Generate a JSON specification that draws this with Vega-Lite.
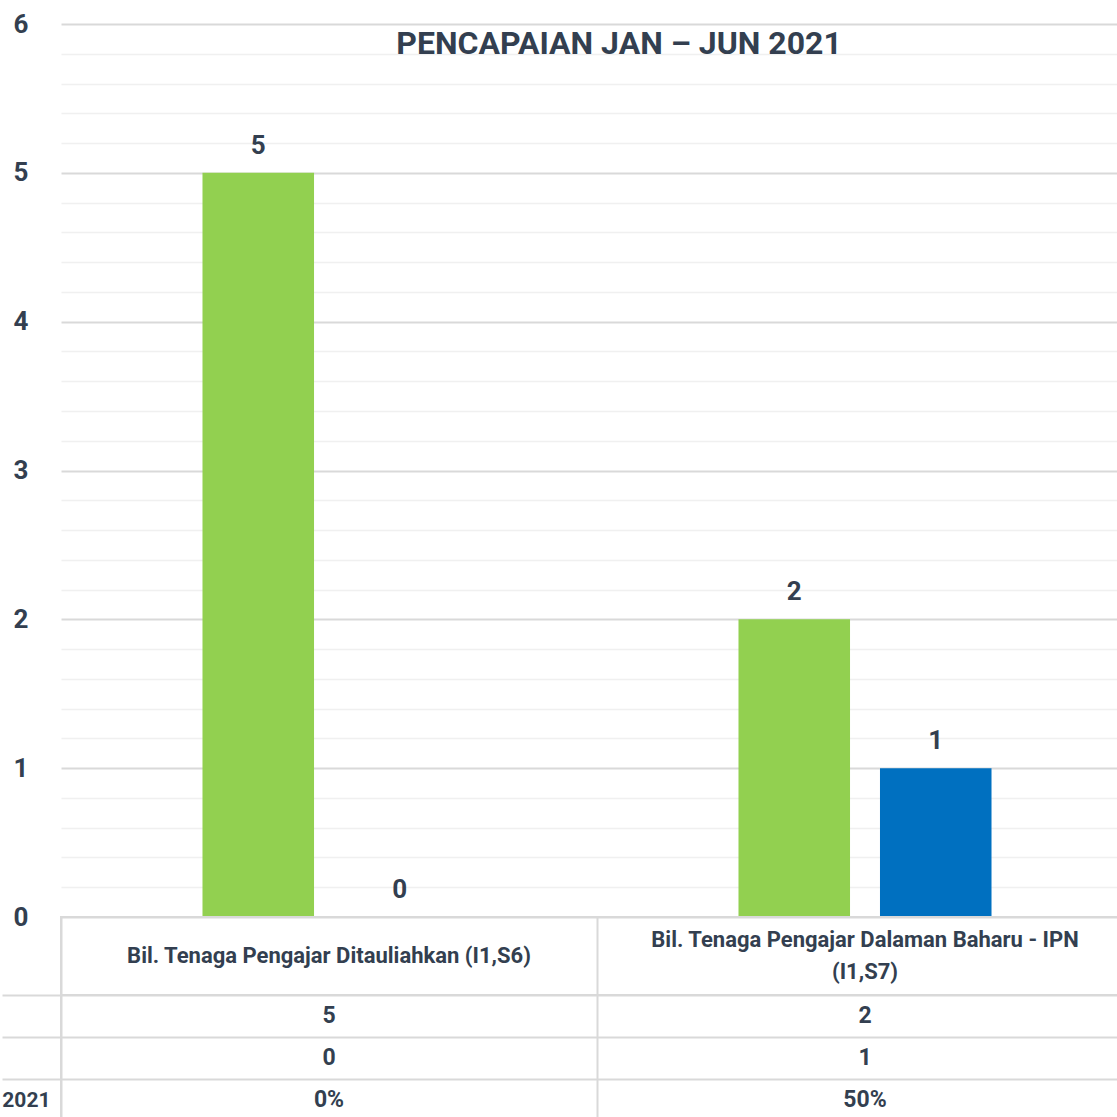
{
  "$schema": "https://vega.github.io/schema/vega-lite/v6.json",
  "padding": {"top": 11, "left": 0, "right": 0, "bottom": 0},
  "background": "white",
  "spacing": 0,
  "bounds": "flush",
  "config": {
    "font": "Roboto",
    "view": {"stroke": null},
    "axis": {"labelFont": "Roboto", "labelFontWeight": "bold", "labelColor": "#333f50"}
  },
  "datasets": {
    "bars": [
      {"kategori": "Bil. Tenaga Pengajar Ditauliahkan (I1,S6)", "siri": "Sasaran", "nilai": 5},
      {"kategori": "Bil. Tenaga Pengajar Ditauliahkan (I1,S6)", "siri": "Pencapaian", "nilai": 0},
      {"kategori": "Bil. Tenaga Pengajar Dalaman Baharu - IPN (I1,S7)", "siri": "Sasaran", "nilai": 2},
      {"kategori": "Bil. Tenaga Pengajar Dalaman Baharu - IPN (I1,S7)", "siri": "Pencapaian", "nilai": 1}
    ],
    "header": [
      {"kategori": "Bil. Tenaga Pengajar Ditauliahkan (I1,S6)", "teks": "Bil. Tenaga Pengajar Ditauliahkan (I1,S6)", "baris_teks": 1},
      {"kategori": "Bil. Tenaga Pengajar Dalaman Baharu - IPN (I1,S7)", "teks": "Bil. Tenaga Pengajar Dalaman Baharu - IPN\n(I1,S7)", "baris_teks": 2}
    ],
    "table": [
      {"kategori": "Bil. Tenaga Pengajar Ditauliahkan (I1,S6)", "baris": "Sasaran", "teks": "5"},
      {"kategori": "Bil. Tenaga Pengajar Ditauliahkan (I1,S6)", "baris": "Pencapaian", "teks": "0"},
      {"kategori": "Bil. Tenaga Pengajar Ditauliahkan (I1,S6)", "baris": "% Pencapaian Jan – Jun 2021", "teks": "0%"},
      {"kategori": "Bil. Tenaga Pengajar Dalaman Baharu - IPN (I1,S7)", "baris": "Sasaran", "teks": "2"},
      {"kategori": "Bil. Tenaga Pengajar Dalaman Baharu - IPN (I1,S7)", "baris": "Pencapaian", "teks": "1"},
      {"kategori": "Bil. Tenaga Pengajar Dalaman Baharu - IPN (I1,S7)", "baris": "% Pencapaian Jan – Jun 2021", "teks": "50%"}
    ]
  },
  "vconcat": [
    {
      "width": 1072,
      "height": 893,
      "title": {
        "text": "PENCAPAIAN JAN – JUN 2021",
        "frame": "group",
        "anchor": "middle",
        "offset": -75,
        "baseline": "alphabetic",
        "dx": 22,
        "fontSize": 32,
        "fontWeight": "bold",
        "font": "Roboto",
        "color": "#333f50"
      },
      "data": {"name": "bars"},
      "encoding": {
        "x": {"field": "kategori", "type": "nominal", "sort": null,
              "scale": {"paddingInner": 0, "paddingOuter": 0}, "axis": null},
        "xOffset": {"field": "siri", "type": "nominal", "sort": ["Sasaran", "Pencapaian"],
                    "scale": {"paddingInner": 0.2117, "paddingOuter": 1.062}},
        "y": {"field": "nilai", "type": "quantitative",
              "scale": {"domain": [0, 6], "nice": false}}
      },
      "layer": [
        {
          "mark": {"type": "bar"},
          "encoding": {
            "y": {"field": "nilai", "type": "quantitative",
                  "scale": {"domain": [0, 6], "nice": false},
                  "axis": {"values": [0.2,0.4,0.6,0.8,1.2,1.4,1.6,1.8,2.2,2.4,2.6,2.8,3.2,3.4,3.6,3.8,4.2,4.4,4.6,4.8,5.2,5.4,5.6,5.8],
                           "labels": false, "ticks": false, "domain": false, "title": null,
                           "grid": true, "gridColor": "#f0f0f0", "gridWidth": 1.5, "orient": "left"}},
            "color": {"field": "siri", "type": "nominal", "legend": null,
                      "scale": {"domain": ["Sasaran", "Pencapaian"], "range": ["#92d050", "#0070c0"]}}
          }
        },
        {
          "mark": {"type": "text", "baseline": "alphabetic", "dy": -19, "fontSize": 26,
                   "fontWeight": "bold", "color": "#333f50", "font": "Roboto"},
          "encoding": {
            "y": {"field": "nilai", "type": "quantitative",
                  "scale": {"domain": [0, 6], "nice": false},
                  "axis": {"values": [0,1,2,3,4,5,6], "title": null, "ticks": false, "domain": false,
                           "labelFontSize": 26, "labelPadding": 33, "grid": true,
                           "gridColor": "#d9d9d9", "gridWidth": 2, "orient": "left"}},
            "text": {"field": "nilai", "type": "quantitative"}
          }
        }
      ],
      "resolve": {"axis": {"y": "independent"}}
    },
    {
      "width": 1072,
      "height": 78,
      "view": {"stroke": "#d9d9d9", "strokeWidth": 2},
      "data": {"name": "header"},
      "encoding": {
        "x": {"field": "kategori", "type": "nominal", "sort": null,
              "scale": {"paddingInner": 0, "paddingOuter": 0},
              "axis": {"labels": false, "ticks": false, "domain": false, "title": null,
                       "grid": true, "tickBand": "extent", "gridColor": "#d9d9d9", "gridWidth": 2}},
        "text": {"field": "teks"}
      },
      "layer": [
        {
          "transform": [{"filter": "datum.baris_teks == 1"}],
          "mark": {"type": "text", "baseline": "middle", "fontSize": 22, "fontWeight": "bold",
                   "color": "#333f50", "font": "Roboto"}
        },
        {
          "transform": [{"filter": "datum.baris_teks == 2"}],
          "mark": {"type": "text", "baseline": "middle", "dy": -16, "fontSize": 22, "fontWeight": "bold",
                   "color": "#333f50", "lineBreak": "\n", "lineHeight": 32, "font": "Roboto"}
        }
      ]
    },
    {
      "width": 1072,
      "height": 126,
      "view": {"stroke": "#d9d9d9", "strokeWidth": 2},
      "data": {"name": "table"},
      "mark": {"type": "text", "baseline": "middle", "fontSize": 23, "fontWeight": "bold",
               "color": "#333f50", "font": "Roboto"},
      "encoding": {
        "x": {"field": "kategori", "type": "nominal", "sort": null,
              "scale": {"paddingInner": 0, "paddingOuter": 0},
              "axis": {"labels": false, "ticks": false, "domain": false, "title": null,
                       "grid": true, "tickBand": "extent", "gridColor": "#d9d9d9", "gridWidth": 2}},
        "y": {"field": "baris", "type": "nominal",
              "sort": ["Sasaran", "Pencapaian", "% Pencapaian Jan – Jun 2021"],
              "scale": {"paddingInner": 0, "paddingOuter": 0},
              "axis": {"title": null, "domain": false, "tickBand": "extent", "ticks": true,
                       "tickSize": 59, "tickColor": "#d9d9d9", "tickWidth": 2,
                       "grid": true, "gridColor": "#d9d9d9", "gridWidth": 2,
                       "labelFontSize": 21, "labelPadding": -48,
                       "labelExpr": "datum.value == '% Pencapaian Jan – Jun 2021' ? '2021' : ''"}},
        "text": {"field": "teks"}
      }
    }
  ]
}
